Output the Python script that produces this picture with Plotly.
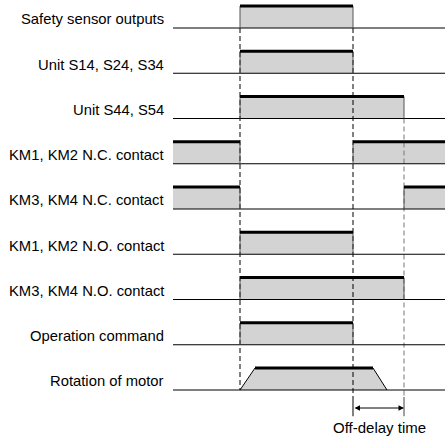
import plotly.graph_objects as go

# ---- data ----
labels = [
    "Safety sensor outputs",
    "Unit S14, S24, S34",
    "Unit S44, S54",
    "KM1, KM2 N.C. contact",
    "KM3, KM4 N.C. contact",
    "KM1, KM2 N.O. contact",
    "KM3, KM4 N.O. contact",
    "Operation command",
    "Rotation of motor",
]
T_START = 0
T_ON = 67
T_OFF = 180
T_DELAY = 231
T_END = 272
# high intervals for each digital signal (row index -> list of (start, end))
intervals = [
    [(T_ON, T_OFF)],
    [(T_ON, T_OFF)],
    [(T_ON, T_DELAY)],
    [(T_START, T_ON), (T_OFF, T_END)],
    [(T_START, T_ON), (T_DELAY, T_END)],
    [(T_ON, T_OFF)],
    [(T_ON, T_DELAY)],
    [(T_ON, T_OFF)],
]
# motor speed profile: time points and level (0 = stopped, 1 = running)
motor_t = [67, 82, 200, 214]
motor_lvl = [0, 1, 1, 0]
HIGH = 0.486  # pulse height in row units

FILL = "#d3d3d3"
EDGE = "#555555"

fig = go.Figure()

def line(xs, ys, color="black", width=1.0, dash=None):
    fig.add_trace(go.Scatter(x=xs, y=ys, mode="lines", hoverinfo="skip",
                             line=dict(color=color, width=width, dash=dash),
                             showlegend=False))

# fills first
for i, ivs in enumerate(intervals):
    for a, b in ivs:
        fig.add_trace(go.Scatter(x=[a, b, b, a, a], y=[i, i, i - HIGH, i - HIGH, i],
                                 mode="lines", fill="toself", fillcolor=FILL,
                                 line=dict(width=0), hoverinfo="skip", showlegend=False))
mi = len(intervals)
fig.add_trace(go.Scatter(x=motor_t + [motor_t[0]],
                         y=[mi - l * HIGH for l in motor_lvl] + [mi],
                         mode="lines", fill="toself", fillcolor=FILL,
                         line=dict(width=0), hoverinfo="skip", showlegend=False))

# dashed guide lines
DASH = "5px,3px"
line([T_ON, T_ON], [0, 8], "black", 1, DASH)
line([T_OFF, T_OFF], [0, 8.155], "black", 1, DASH)
line([T_DELAY, T_DELAY], [2, 8.155], "#777777", 1, DASH)
line([T_OFF, T_OFF], [8.155, 8.58], "black", 1)
line([T_DELAY, T_DELAY], [8.155, 8.58], "#444444", 1)

# edges, baselines, top lines
for i, ivs in enumerate(intervals):
    line([T_START, T_END], [i, i], "black", 1.2)
    for a, b in ivs:
        for e in (a, b):
            if T_START < e < T_END:
                line([e, e], [i, i - HIGH], EDGE, 1)
        line([a, b], [i - HIGH, i - HIGH], "black", 3)

line([T_START, T_END], [mi, mi], "black", 1.2)
line(motor_t, [mi - l * HIGH for l in motor_lvl], "black", 1)
line(motor_t[1:3], [mi - HIGH, mi - HIGH], "black", 3)

# labels
for i, lab in enumerate(labels):
    fig.add_annotation(x=-7.5, y=i - 0.19, xref="x", yref="y", text=lab,
                       showarrow=False, xanchor="right", yanchor="middle",
                       font=dict(family="Liberation Sans, Arial", size=14.8, color="black"))

# off-delay arrow
fig.add_annotation(x=T_DELAY, y=8.398, ax=T_OFF, ay=8.398, xref="x", yref="y",
                   axref="x", ayref="y", text="", showarrow=True,
                   arrowhead=2, arrowside="end+start", arrowsize=1.1,
                   arrowwidth=1, arrowcolor="black")
fig.add_annotation(x=(T_OFF + T_DELAY) / 2 + 0.5, y=8.82, xref="x", yref="y",
                   text="Off-delay time", showarrow=False,
                   font=dict(family="Liberation Sans, Arial", size=15, color="black"))

fig.update_layout(
    width=448, height=439,
    margin=dict(l=0, r=0, t=0, b=0),
    plot_bgcolor="white", paper_bgcolor="white",
    xaxis=dict(range=[-173, 275], visible=False, fixedrange=True),
    yaxis=dict(range=[9.083, -0.619], visible=False, fixedrange=True),
)
fig.write_html("out.html", config={"displayModeBar": False, "staticPlot": True},
               post_script="document.body.style.margin='0';document.body.style.overflow='hidden';")
